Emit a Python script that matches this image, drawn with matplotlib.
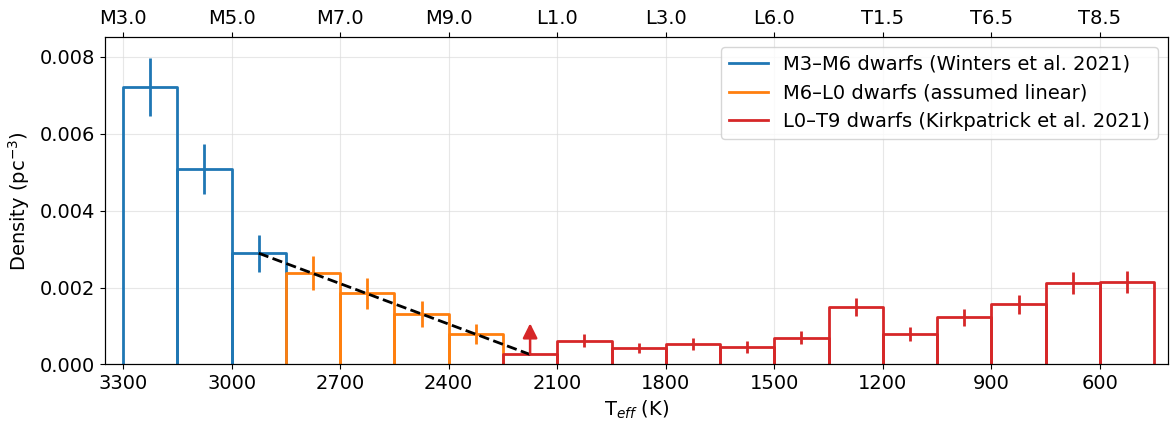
import matplotlib
matplotlib.use("Agg")
import matplotlib.pyplot as plt
import numpy as np

# bin edges (K) and densities
blue_edges = [3300, 3150, 3000, 2850]
blue_dens = [0.00721, 0.00508, 0.00289]
blue_err = [0.00075, 0.00064, 0.00048]

orange_edges = [2850, 2700, 2550, 2400, 2250]
orange_dens = [0.00237, 0.00185, 0.00132, 0.00079]
orange_err = [0.00044, 0.00040, 0.00034, 0.00027]

red_edges = [2250, 2100, 1950, 1800, 1650, 1500, 1350, 1200, 1050, 900, 750, 600, 450]
red_dens = [0.00026, 0.00062, 0.00043, 0.00053, 0.00045, 0.00069, 0.00150,
            0.00080, 0.00123, 0.00156, 0.00211, 0.00215]
red_err = [0.0, 0.00017, 0.00013, 0.00015, 0.00015, 0.00017, 0.00024,
           0.00018, 0.00022, 0.00024, 0.00028, 0.00028]

# linear assumption through the M6-L0 gap, and the lower limit arrow
linear_teff = [2925, 2175]
linear_dens = [0.00289, 0.00026]
limit_teff = 2175
limit_from = 0.00026
limit_to = 0.00107

bottom_ticks = [3300, 3000, 2700, 2400, 2100, 1800, 1500, 1200, 900, 600]
top_labels = ["M3.0", "M5.0", "M7.0", "M9.0", "L1.0", "L3.0", "L6.0", "T1.5", "T6.5", "T8.5"]

groups = [
    (blue_edges, blue_dens, blue_err, "tab:blue", "M3–M6 dwarfs (Winters et al. 2021)"),
    (orange_edges, orange_dens, orange_err, "tab:orange", "M6–L0 dwarfs (assumed linear)"),
    (red_edges, red_dens, red_err, "tab:red", "L0–T9 dwarfs (Kirkpatrick et al. 2021)"),
]

plt.rcParams["font.size"] = 14

fig = plt.figure(figsize=(11.7, 4.26), dpi=100)
ax = fig.add_axes([0.0897, 0.1444, 0.9083, 0.768])

for edges, dens, err, color, label in groups:
    for i, h in enumerate(dens):
        l, r = edges[i], edges[i + 1]
        ax.plot([l, l, r, r], [0, h, h, 0], color=color, lw=2,
                label=label if i == 0 else None, zorder=2)
    centers = (np.array(edges[:-1]) + np.array(edges[1:])) / 2
    mask = np.array(err) > 0
    ax.errorbar(centers[mask], np.array(dens)[mask], yerr=np.array(err)[mask],
                fmt="none", ecolor=color, elinewidth=2, capsize=0, zorder=2)

ax.plot(linear_teff, linear_dens, color="black", ls="--", lw=2, zorder=3)
ax.annotate("", xy=(limit_teff, limit_to), xytext=(limit_teff, limit_from),
            arrowprops=dict(arrowstyle="-|>", color="tab:red", lw=1.8,
                            mutation_scale=22, shrinkA=0, shrinkB=0), zorder=3)

ax.set_xlim(3350, 413)
ax.set_ylim(0, 0.0085)
ax.set_xticks(bottom_ticks)
ax.set_yticks([0, 0.002, 0.004, 0.006, 0.008])
ax.yaxis.set_major_formatter(matplotlib.ticker.FormatStrFormatter("%.3f"))
ax.grid(color="#dddddd", alpha=0.7, lw=0.8)
ax.set_axisbelow(True)
ax.set_xlabel(r"T$_{eff}$ (K)", labelpad=4)
ax.set_ylabel(r"Density (pc$^{-3}$)", labelpad=6)
ax.legend(loc="upper right", fontsize=14, handlelength=2.0)

top = ax.twiny()
top.set_xlim(ax.get_xlim())
top.set_xticks(bottom_ticks)
top.set_xticklabels(top_labels)

fig.savefig("out.png", dpi=100)
